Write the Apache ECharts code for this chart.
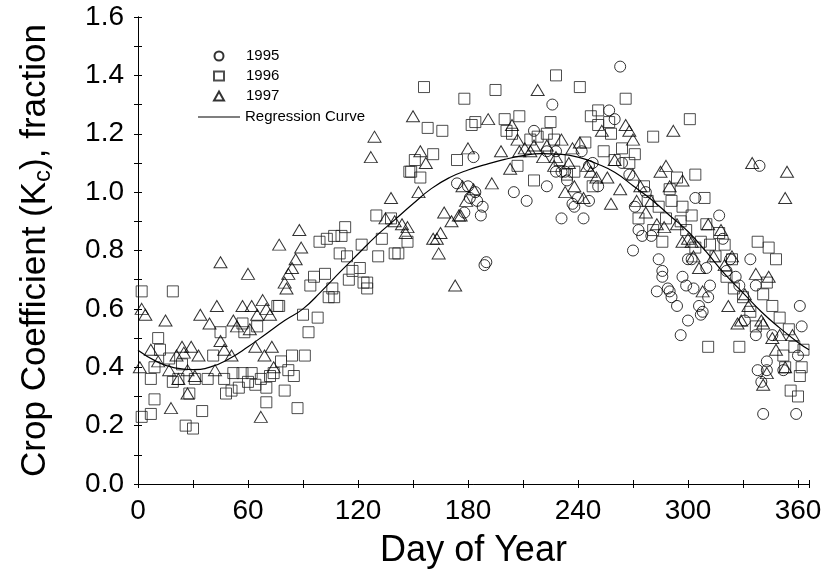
<!DOCTYPE html>
<html>
<head>
<meta charset="utf-8">
<script src="https://cdn.jsdelivr.net/npm/echarts@6/dist/echarts.min.js"></script>
<style>
  html, body { margin: 0; padding: 0; background: #fff; }
</style>
</head>
<body>
<div id="kcChart" style="width: 825px; height: 583px"></div>
<script>
// day of year / crop coefficient
const days1995 = [174, 178, 180, 181, 183, 184, 185, 187, 188, 189, 190, 205, 212, 216, 223, 223, 226, 228, 228, 231, 231, 233, 234, 237, 238, 240, 242, 243, 246, 246, 248, 251, 257, 260, 263, 264, 268, 270, 271, 273, 275, 277, 280, 283, 284, 286, 286, 289, 290, 291, 294, 296, 297, 299, 300, 300, 302, 303, 304, 306, 307, 308, 310, 311, 312, 317, 319, 321, 323, 326, 328, 331, 334, 337, 337, 338, 339, 340, 341, 343, 343, 346, 352, 359, 360, 361, 362];
const kc1995 = [1.03, 0.93, 1.02, 0.98, 1.12, 1.00, 0.97, 0.92, 0.95, 0.75, 0.76, 1.00, 0.97, 1.21, 1.02, 1.14, 1.30, 1.14, 1.07, 1.07, 0.91, 1.07, 1.04, 0.96, 0.95, 0.98, 1.14, 0.91, 1.09, 0.97, 1.10, 1.02, 1.28, 1.25, 1.43, 1.10, 1.06, 0.80, 0.95, 0.87, 0.85, 1.00, 0.85, 0.66, 0.77, 0.71, 0.73, 0.67, 0.66, 0.64, 0.61, 0.51, 0.71, 0.68, 0.77, 0.56, 0.77, 0.67, 0.98, 0.61, 0.58, 0.59, 0.74, 0.64, 0.68, 0.92, 0.84, 0.73, 0.77, 0.71, 0.68, 0.56, 0.77, 0.68, 0.51, 0.39, 1.09, 0.35, 0.24, 0.42, 0.39, 0.51, 0.39, 0.24, 0.44, 0.61, 0.54];

const days1996 = [2, 2, 7, 7, 9, 11, 9, 12, 17, 19, 19, 22, 26, 30, 28, 24, 31, 35, 38, 41, 45, 47, 48, 51, 52, 55, 57, 57, 58, 60, 62, 64, 65, 67, 70, 70, 72, 74, 76, 77, 78, 80, 82, 84, 85, 87, 90, 91, 93, 94, 96, 98, 99, 102, 103, 104, 106, 107, 107, 110, 111, 113, 114, 115, 117, 121, 122, 123, 125, 125, 130, 131, 133, 138, 140, 142, 147, 148, 149, 151, 154, 156, 158, 161, 166, 174, 178, 182, 184, 195, 200, 201, 204, 208, 207, 214, 216, 218, 223, 225, 227, 228, 230, 234, 238, 241, 244, 247, 248, 251, 251, 254, 257, 258, 260, 264, 266, 268, 271, 273, 276, 278, 281, 281, 284, 286, 288, 290, 291, 294, 296, 297, 299, 301, 302, 304, 304, 307, 309, 310, 311, 312, 315, 317, 320, 321, 324, 325, 328, 330, 334, 337, 338, 341, 343, 344, 346, 348, 350, 352, 353, 355, 356, 358, 360, 361, 362, 363];
const kc1996 = [0.66, 0.23, 0.36, 0.24, 0.40, 0.50, 0.29, 0.46, 0.43, 0.66, 0.35, 0.36, 0.20, 0.19, 0.31, 0.41, 0.36, 0.25, 0.36, 0.44, 0.52, 0.36, 0.31, 0.32, 0.38, 0.33, 0.38, 0.55, 0.52, 0.35, 0.38, 0.34, 0.54, 0.36, 0.33, 0.28, 0.37, 0.38, 0.61, 0.61, 0.42, 0.32, 0.39, 0.44, 0.37, 0.26, 0.58, 0.44, 0.52, 0.68, 0.71, 0.57, 0.83, 0.72, 0.84, 0.64, 0.67, 0.64, 0.85, 0.79, 0.85, 0.88, 0.78, 0.70, 0.73, 0.74, 0.82, 0.69, 0.69, 0.67, 0.92, 0.78, 0.84, 0.91, 0.79, 0.79, 0.83, 1.07, 1.07, 1.11, 1.05, 1.36, 1.22, 1.13, 1.21, 1.11, 1.32, 1.23, 1.24, 1.35, 1.25, 1.21, 1.20, 1.26, 1.09, 1.18, 1.04, 1.19, 1.20, 1.24, 1.18, 1.40, 1.11, 1.06, 1.07, 1.36, 1.17, 1.26, 1.02, 1.23, 1.28, 1.14, 1.24, 1.20, 1.11, 1.15, 1.32, 1.10, 1.13, 0.91, 1.02, 0.97, 1.19, 0.87, 0.95, 0.83, 0.91, 1.01, 0.97, 1.05, 0.90, 0.95, 0.87, 1.25, 0.92, 1.06, 0.81, 0.83, 0.98, 0.89, 0.47, 0.82, 0.78, 0.86, 0.82, 0.71, 0.77, 0.67, 0.47, 0.64, 0.59, 0.54, 0.83, 0.65, 0.69, 0.81, 0.61, 0.77, 0.57, 0.44, 0.40, 0.53, 0.32, 0.47, 0.30, 0.37, 0.40, 0.46];

const days1997 = [1, 2, 4, 7, 11, 15, 18, 17, 21, 22, 24, 25, 27, 27, 29, 31, 33, 34, 39, 42, 43, 45, 45, 47, 51, 52, 54, 57, 60, 61, 62, 64, 65, 67, 68, 69, 70, 72, 73, 74, 77, 80, 81, 82, 84, 86, 88, 89, 127, 129, 135, 138, 140, 144, 146, 147, 150, 153, 154, 157, 161, 163, 164, 165, 167, 171, 173, 175, 176, 177, 179, 180, 183, 191, 193, 198, 203, 204, 207, 208, 211, 214, 216, 218, 221, 223, 227, 228, 231, 233, 235, 237, 238, 241, 243, 245, 247, 250, 253, 256, 258, 260, 263, 266, 268, 270, 270, 272, 274, 277, 280, 283, 285, 287, 288, 290, 292, 294, 297, 297, 300, 302, 303, 306, 308, 311, 314, 318, 320, 322, 324, 327, 329, 331, 333, 335, 337, 340, 341, 341, 343, 344, 346, 348, 350, 353, 353, 354, 357];
const kc1997 = [0.40, 0.60, 0.58, 0.46, 0.42, 0.56, 0.26, 0.39, 0.44, 0.36, 0.47, 0.45, 0.39, 0.31, 0.47, 0.37, 0.44, 0.58, 0.55, 0.39, 0.61, 0.76, 0.49, 0.46, 0.44, 0.56, 0.54, 0.61, 0.72, 0.53, 0.61, 0.47, 0.58, 0.23, 0.63, 0.44, 0.60, 0.58, 0.47, 0.40, 0.82, 0.69, 0.67, 0.72, 0.74, 0.77, 0.87, 0.81, 1.12, 1.19, 0.91, 0.98, 0.90, 0.89, 0.86, 0.88, 1.26, 1.00, 1.14, 1.10, 0.84, 0.84, 0.79, 0.86, 0.93, 0.90, 0.68, 0.92, 0.92, 1.02, 0.97, 1.15, 1.01, 1.25, 1.03, 1.14, 1.08, 1.23, 1.18, 1.14, 1.15, 1.14, 1.16, 1.35, 1.12, 1.16, 1.09, 1.12, 1.18, 1.00, 1.10, 1.15, 1.02, 1.17, 0.98, 1.09, 1.07, 1.05, 1.21, 1.05, 0.96, 1.11, 1.01, 1.23, 1.21, 1.18, 1.06, 0.97, 1.02, 0.93, 0.97, 0.89, 1.07, 0.88, 1.09, 1.02, 1.21, 0.89, 0.83, 1.04, 0.84, 0.83, 0.78, 0.74, 0.66, 0.89, 0.78, 0.87, 0.75, 0.61, 0.78, 0.55, 0.56, 0.65, 0.61, 1.10, 0.72, 0.56, 0.34, 0.55, 0.38, 0.71, 0.50, 0.46, 0.51, 0.40, 0.98, 1.07, 0.51];

// regression curve
const curveDays = [0, 10, 20, 30, 40, 50, 60, 70, 80, 90, 100, 110, 120, 130, 140, 150, 160, 170, 180, 190, 200, 210, 220, 230, 240, 250, 260, 270, 280, 290, 300, 310, 320, 330, 340, 350, 360, 366];
const curveKc = [0.458, 0.42, 0.398, 0.392, 0.402, 0.43, 0.47, 0.515, 0.56, 0.6, 0.66, 0.725, 0.788, 0.85, 0.905, 0.96, 1.012, 1.05, 1.076, 1.095, 1.112, 1.125, 1.132, 1.13, 1.12, 1.098, 1.068, 1.022, 0.975, 0.92, 0.865, 0.795, 0.72, 0.655, 0.59, 0.535, 0.485, 0.46];

const xTicks = [0, 60, 120, 180, 240, 300, 360];

const font = "Arial, 'Liberation Sans', sans-serif";

function pairs(xs, ys) {
  return xs.map((x, i) => [x, ys[i]]);
}

const markStyle = {
  color: 'rgba(0,0,0,0)',
  borderColor: '#000',
  borderWidth: 1
};

const chart = echarts.init(document.getElementById('kcChart'));

const xBase = {
  type: 'value',
  min: 0,
  max: 366,
  interval: 30,
  splitLine: { show: false },
  axisLine: { show: true, lineStyle: { color: '#000', width: 1 } },
  axisTick: { show: true, inside: true, length: 4, lineStyle: { color: '#000' } }
};
const yBase = {
  type: 'value',
  min: 0,
  max: 1.6,
  interval: 0.1,
  splitLine: { show: false },
  axisLine: { show: true, lineStyle: { color: '#000', width: 1 } },
  axisTick: { show: true, inside: true, length: 4, lineStyle: { color: '#000' } }
};

const legendText = { fontFamily: font, fontSize: 15, color: '#000', lineHeight: 16 };

chart.setOption({
  animation: false,
  backgroundColor: '#fff',
  grid: { left: 138, right: 16, top: 17, bottom: 99 },
  legend: [
    {
      orient: 'vertical',
      left: 208,
      top: 43,
      itemWidth: 10,
      itemHeight: 9,
      itemGap: 4,
      textStyle: Object.assign({ padding: [0, 0, 0, 17] }, legendText),
      data: ['1995', '1996', '1997']
    },
    {
      orient: 'vertical',
      left: 193,
      top: 104,
      itemWidth: 42,
      itemHeight: 1.2,
      textStyle: Object.assign({ padding: [0, 0, 0, 0] }, legendText),
      data: [{ name: 'Regression Curve', icon: 'rect', itemStyle: { color: '#000', borderWidth: 0 } }]
    }
  ],
  xAxis: [
    Object.assign({}, xBase, {
      position: 'bottom',
      name: 'Day of Year',
      nameLocation: 'middle',
      nameGap: 49,
      nameTextStyle: { fontFamily: font, fontSize: 36, color: '#000' },
      axisLabel: {
        fontFamily: font, fontSize: 28, color: '#000', margin: 13,
        formatter: v => (xTicks.indexOf(v) >= 0 ? String(v) : '')
      }
    }),
    Object.assign({}, xBase, { position: 'top', axisLabel: { show: false } })
  ],
  yAxis: [
    Object.assign({}, yBase, {
      position: 'left',
      name: 'Crop Coefficient (K{sub|c}), fraction',
      nameLocation: 'middle',
      nameGap: 83,
      nameTextStyle: {
        fontFamily: font, fontSize: 35, color: '#000',
        rich: { sub: { fontFamily: font, fontSize: 24, color: '#000', padding: [16, 0, 0, 0] } }
      },
      axisLabel: {
        fontFamily: font, fontSize: 28, color: '#000', margin: 14,
        formatter: v => (Math.round(v * 10) % 2 === 0 ? v.toFixed(1) : '')
      }
    }),
    Object.assign({}, yBase, { position: 'right', axisLabel: { show: false } })
  ],
  series: [
    {
      name: '1995', type: 'scatter', symbol: 'circle', symbolSize: 11,
      itemStyle: markStyle, emphasis: { disabled: true },
      data: pairs(days1995, kc1995)
    },
    {
      name: '1996', type: 'scatter', symbol: 'rect', symbolSize: 11,
      itemStyle: Object.assign({}, markStyle, { borderColor: '#222' }), emphasis: { disabled: true },
      data: pairs(days1996, kc1996)
    },
    {
      name: '1997', type: 'scatter', symbol: 'triangle', symbolSize: [13, 11],
      itemStyle: markStyle, emphasis: { disabled: true },
      data: pairs(days1997, kc1997)
    },
    {
      name: 'Regression Curve', type: 'line', smooth: true, symbol: 'none',
      lineStyle: { color: '#000', width: 1.2 },
      itemStyle: { color: '#000' },
      data: pairs(curveDays, curveKc)
    }
  ]
});
</script>
</body>
</html>
